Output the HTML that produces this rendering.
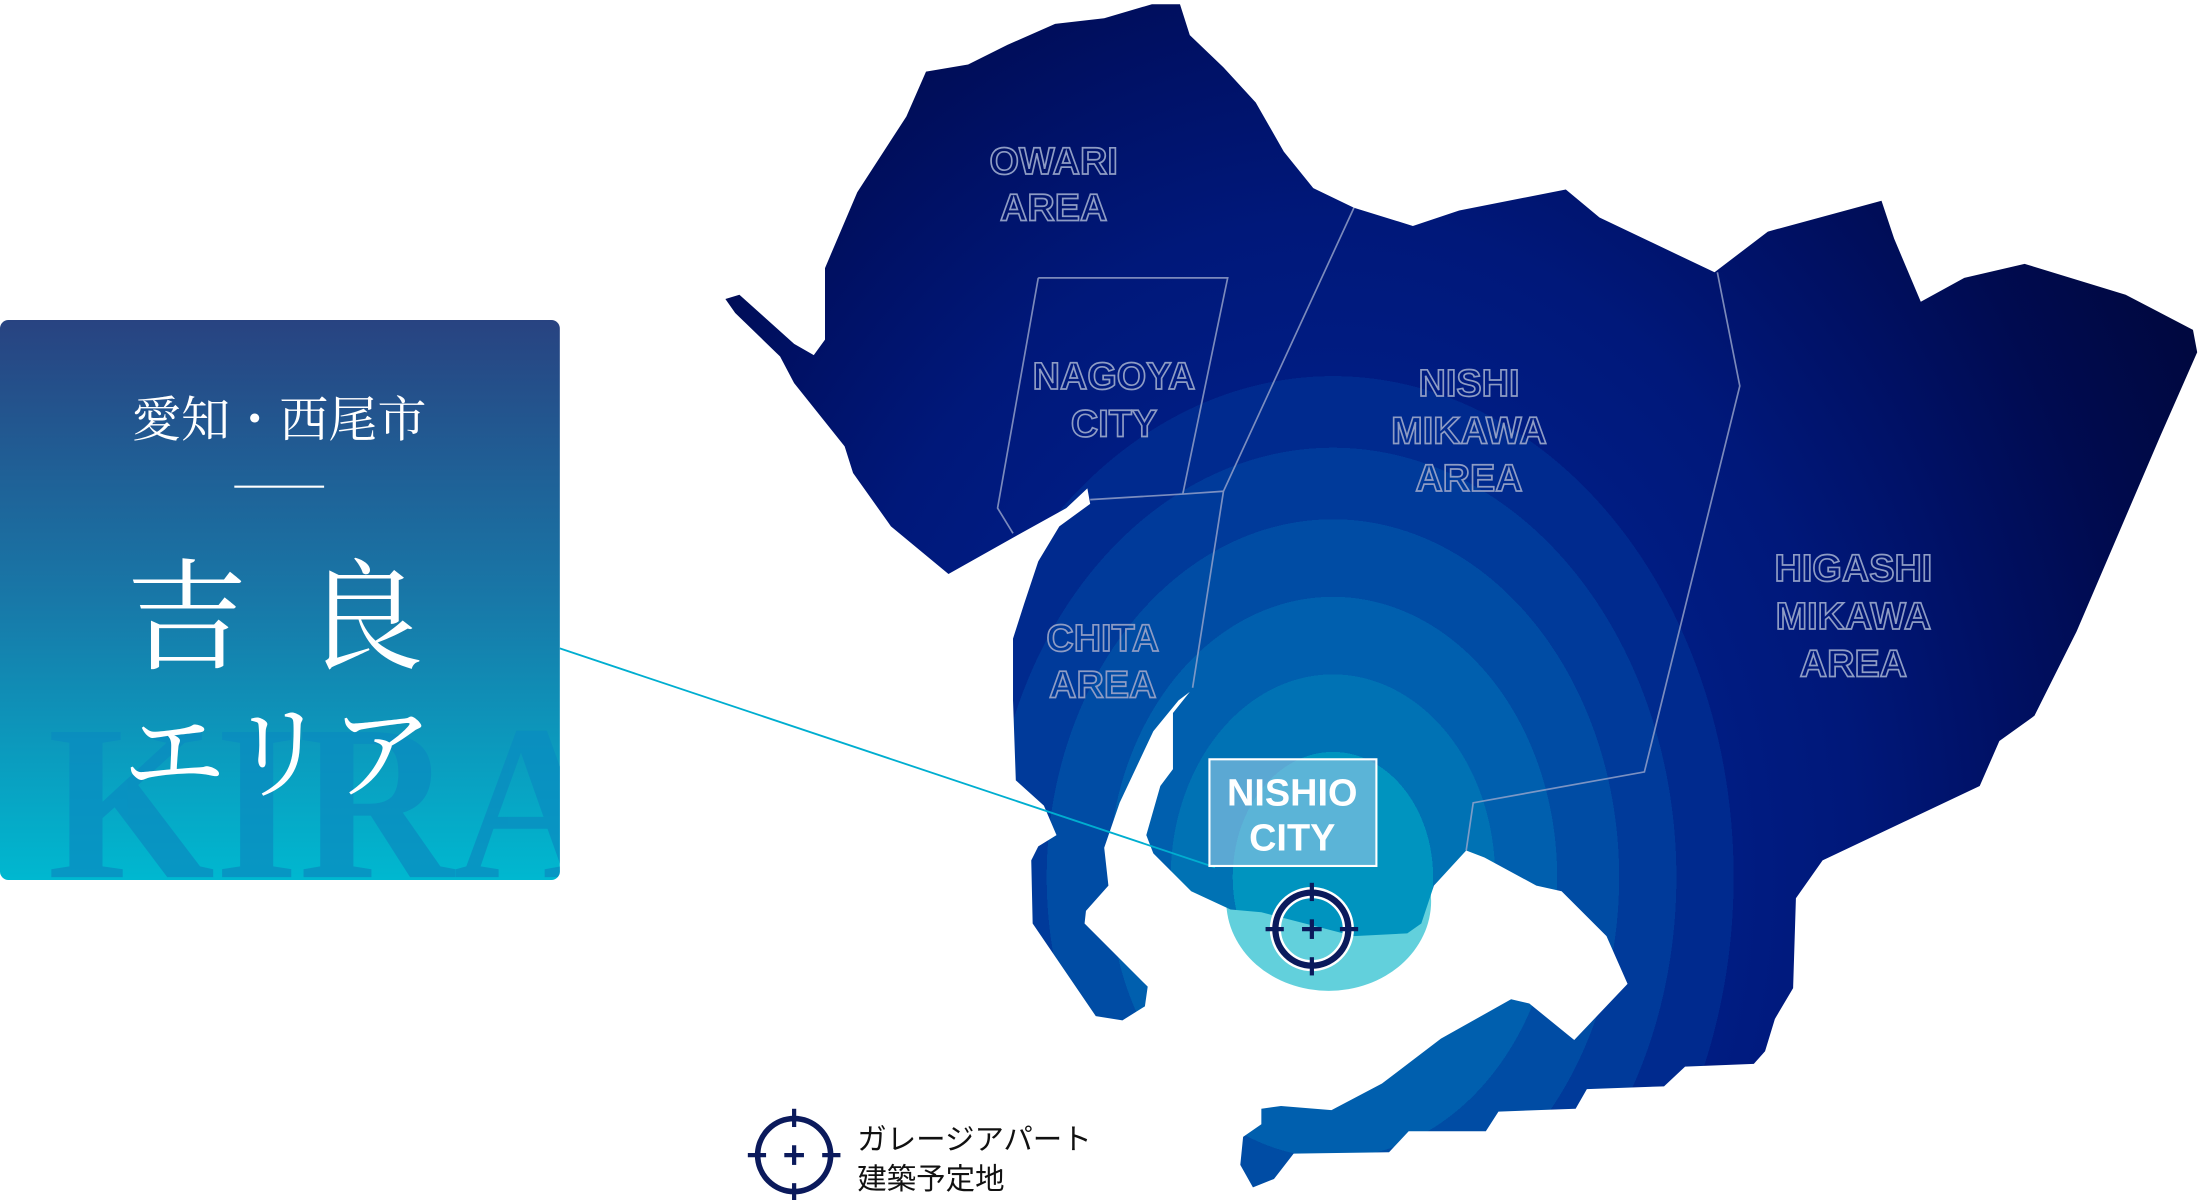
<!DOCTYPE html>
<html><head><meta charset="utf-8"><style>
html,body{margin:0;padding:0;background:#fff;}
svg{display:block;}
.lab{font-family:"Liberation Sans Narrow","Liberation Sans",sans-serif;font-weight:bold;font-size:27px;fill:none;stroke:#8e9cc4;stroke-width:1.2;text-anchor:middle;}
</style></head><body>
<svg width="2200" height="1200" viewBox="0 0 1568 855" preserveAspectRatio="none" xmlns="http://www.w3.org/2000/svg">
<defs>
<linearGradient id="pg" x1="0" y1="0" x2="0" y2="1">
<stop offset="0" stop-color="#284381"/><stop offset="0.5" stop-color="#1878a8"/><stop offset="1" stop-color="#00b8d0"/>
</linearGradient>
<radialGradient id="mg" gradientUnits="userSpaceOnUse" cx="950" cy="625" r="680" gradientTransform="translate(950 625) scale(1 1.25) translate(-950 -625)">
<stop offset="0" stop-color="#0094bf"/><stop offset="0.105" stop-color="#0094bf"/>
<stop offset="0.105" stop-color="#0072b4"/><stop offset="0.17" stop-color="#0072b4"/>
<stop offset="0.17" stop-color="#005fae"/><stop offset="0.235" stop-color="#005fae"/>
<stop offset="0.235" stop-color="#004ca4"/><stop offset="0.3" stop-color="#004ca4"/>
<stop offset="0.3" stop-color="#003a9a"/><stop offset="0.36" stop-color="#003a9a"/>
<stop offset="0.36" stop-color="#002a8e"/><stop offset="0.42" stop-color="#002a8e"/>
<stop offset="0.42" stop-color="#001c82"/><stop offset="0.55" stop-color="#00187a"/>
<stop offset="0.7" stop-color="#001166"/><stop offset="0.85" stop-color="#000b50"/>
<stop offset="1" stop-color="#000840"/>
</radialGradient>
<clipPath id="pc"><rect x="0" y="228" width="399" height="399" rx="6"/></clipPath>
</defs>

<rect x="0" y="228" width="399" height="399" rx="6" fill="url(#pg)"/>
<g clip-path="url(#pc)">
<text x="34" y="625" font-family="Liberation Serif,serif" font-weight="bold" font-size="158" fill="#0a8cc0" opacity="0.75" textLength="400" lengthAdjust="spacingAndGlyphs">KIRA</text>
</g>
<text x="199" y="311" text-anchor="middle" font-family="'Liberation Serif','Noto Serif CJK SC',serif" font-size="35" fill="#fff">愛知・西尾市</text>
<rect x="167" y="346" width="64" height="1.5" fill="#fff"/>
<text x="90" y="470" font-family="'Liberation Serif','Noto Serif CJK SC',serif" font-size="86" fill="#fff" textLength="212" lengthAdjust="spacing">吉良</text>
<text x="198" y="563" text-anchor="middle" font-family="'Liberation Serif','Noto Serif CJK SC',serif" font-size="74" fill="#fff">エリア</text>

<ellipse cx="947" cy="642" rx="73" ry="64" fill="#62d0dc"/>

<path fill="url(#mg)" d="M965,148 L1007,161 L1040,150 L1116,135 L1140,155 L1222,194 L1260,165 L1341,143 L1350,170 L1369,215 L1400,198 L1443,188 L1515,210 L1563,235 L1566,251 L1540,310 L1510,380 L1480,450 L1450,510 L1425,528 L1411,560 L1299,613 L1280,640 L1278,704 L1265,726 L1258,749 L1250,758 L1201,760 L1186,774 L1131,776 L1123,790 L1068,792 L1059,806 L1004,806 L990,821 L922,822 L908,840 L893,846 L884,830 L886,810 L899,801 L899,790 L913,788 L949,791 L985,772 L1027,740 L1077,712 L1090,715 L1122,741 L1160,701 L1145,667 L1113,635 L1095,631 L1058,611 L1045,606 L1022,631 L1013,658 L1003,665 L965,667 L899,650 L877,648 L849,635 L822,608 L817,595 L827,560 L836,548 L836,508 L848,493 L840,499 L822,521 L798,572 L787,604 L790,631 L774,649 L773,658 L818,703 L816,717 L800,727 L781,724 L736,658 L735,613 L740,603 L753,595 L744,574 L724,556 L722,499 L722,455 L730,430 L740,400 L755,375 L777,359 L775,348 L760,362 L724,382 L676,409 L635,375 L608,337 L602,318 L566,273 L556,254 L524,223 L517,213 L527,210 L566,245 L580,253 L588,242 L588,191 L611,137 L646,83 L660,51 L690,46 L718,32 L752,17 L787,13 L821,3 L841,3 L848,25 L872,48 L895,73 L915,108 L936,134 Z"/>

<g fill="none" stroke="#9aa6cc" stroke-width="1.2" opacity="0.8">
<path d="M740,198 L875,198 L843,352"/>
<path d="M740,198 L711,362 L722,380"/>
<path d="M777,356 L843,352 L872,350"/>
<path d="M965,148 L872,350 L850,490"/>
<path d="M1224,194 L1240,275 L1172,550 L1050,572 L1045,606"/>
</g>

<text class="lab" x="751" y="124">OWARI</text>
<text class="lab" x="751" y="157">AREA</text>
<text class="lab" x="794" y="277">NAGOYA</text>
<text class="lab" x="794" y="311">CITY</text>
<text class="lab" x="1047" y="282">NISHI</text>
<text class="lab" x="1047" y="316">MIKAWA</text>
<text class="lab" x="1047" y="350">AREA</text>
<text class="lab" x="786" y="464">CHITA</text>
<text class="lab" x="786" y="497">AREA</text>
<text class="lab" x="1321" y="414">HIGASHI</text>
<text class="lab" x="1321" y="448">MIKAWA</text>
<text class="lab" x="1321" y="482">AREA</text>

<line x1="399" y1="462" x2="866" y2="618" stroke="#00aed0" stroke-width="1.3"/>

<rect x="862" y="541" width="119" height="76" fill="#8cc4e4" fill-opacity="0.65" stroke="#fff" stroke-width="1.5"/>
<text x="921" y="574" text-anchor="middle" font-family="'Liberation Sans Narrow','Liberation Sans',sans-serif" font-weight="bold" font-size="27" fill="#fff">NISHIO</text>
<text x="921" y="606" text-anchor="middle" font-family="'Liberation Sans Narrow','Liberation Sans',sans-serif" font-weight="bold" font-size="27" fill="#fff">CITY</text>

<g transform="translate(935,662)">
<circle r="26" fill="none" stroke="#fff" stroke-width="8"/>
<circle r="26" fill="none" stroke="#0b1a5c" stroke-width="4.5"/>
<g stroke="#0b1a5c" stroke-width="3">
<line x1="0" y1="-33" x2="0" y2="-20"/><line x1="0" y1="20" x2="0" y2="33"/>
<line x1="-33" y1="0" x2="-20" y2="0"/><line x1="20" y1="0" x2="33" y2="0"/>
<line x1="-7" y1="0" x2="7" y2="0"/><line x1="0" y1="-7" x2="0" y2="7"/>
</g>
</g>
<g transform="translate(566,823)">
<circle r="26" fill="none" stroke="#0b1a5c" stroke-width="4"/>
<g stroke="#0b1a5c" stroke-width="3">
<line x1="0" y1="-33" x2="0" y2="-20"/><line x1="0" y1="20" x2="0" y2="33"/>
<line x1="-33" y1="0" x2="-20" y2="0"/><line x1="20" y1="0" x2="33" y2="0"/>
<line x1="-7" y1="0" x2="7" y2="0"/><line x1="0" y1="-7" x2="0" y2="7"/>
</g>
</g>
<text x="611" y="819" font-family="'Liberation Sans','Noto Sans CJK JP',sans-serif" font-size="21" fill="#111">ガレージアパート</text>
<text x="611" y="847" font-family="'Liberation Sans','Noto Sans CJK JP',sans-serif" font-size="21" fill="#111">建築予定地</text>
</svg>
</body></html>
